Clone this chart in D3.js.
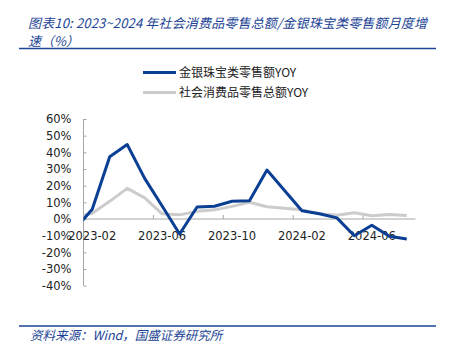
<!DOCTYPE html>
<html lang="zh">
<head>
  <meta charset="UTF-8">
  <title>金银珠宝类零售额月度增速</title>
  <script src="https://d3js.org/d3.v7.min.js"></script>
  <style>
    body { margin: 0; background: #fff; }
    .cn { font-family: "Noto Sans CJK SC", "DejaVu Sans", sans-serif; }
    .axis text { font-family: "DejaVu Sans", sans-serif; font-size: 11.5px; fill: #222; }
  </style>
</head>
<body>
  <div id="chart"></div>
  <script>
    // months (2022-12 point lies left of the axis start and is clipped, like the original)
    const months = ["2022-12", "2023-02", "2023-03", "2023-04", "2023-05", "2023-06", "2023-07",
      "2023-08", "2023-09", "2023-10", "2023-11", "2023-12", "2024-02", "2024-03", "2024-04",
      "2024-05", "2024-06", "2024-07", "2024-08"];
    const jewelry = [-18.4, 5.9, 37.4, 44.7, 24.4, 7.8, -9.0, 7.2, 7.7, 10.7, 11.0, 29.4,
      5.0, 3.2, 0.7, -10.0, -3.7, -10.4, -12.0];
    const retail = [-1.8, 3.5, 10.6, 18.4, 12.7, 3.1, 2.5, 4.6, 5.5, 7.6, 10.1, 7.4,
      5.5, 3.1, 2.3, 3.7, 2.0, 2.7, 2.1];
    const xTickLabels = ["2023-02", "2023-06", "2023-10", "2024-02", "2024-06"];
    const yTicks = [60, 50, 40, 30, 20, 10, 0, -10, -20, -30, -40];
    const seriesNames = ["金银珠宝类零售额YOY", "社会消费品零售总额YOY"];

    const blue = "#0b3f94";
    const grey = "#cccccc";
    const titleBlue = "#1c4595";

    const W = 452, H = 353;
    const plot = { left: 83.5, right: 415.5, top: 119, bottom: 285.7 };

    // month index relative to 2023-02
    const mIdx = s => {
      const [yy, mm] = s.split("-").map(Number);
      return (yy - 2023) * 12 + (mm - 2);
    };

    const x = d3.scaleLinear().domain([-0.5, 18.5]).range([plot.left, plot.right]);
    const y = d3.scaleLinear().domain([-40, 60]).range([plot.bottom, plot.top]);

    const svg = d3.select("#chart").append("svg")
      .attr("width", W)
      .attr("height", H);

    svg.append("rect").attr("width", W).attr("height", H).attr("fill", "#fff");

    // title, two lines
    svg.append("text")
      .attr("class", "cn")
      .attr("x", 28).attr("y", 28)
      .attr("fill", titleBlue)
      .attr("textLength", 399)
      .attr("lengthAdjust", "spacing")
      .style("font-size", "13px")
      .style("font-style", "italic")
      .text("图表10:  2023~2024 年社会消费品零售总额/金银珠宝类零售额月度增");
    svg.append("text")
      .attr("class", "cn")
      .attr("x", 28).attr("y", 45.5)
      .attr("fill", titleBlue)
      .style("font-size", "13px")
      .style("font-style", "italic")
      .text("速（%）");

    svg.append("line")
      .attr("x1", 19).attr("x2", 436).attr("y1", 48.5).attr("y2", 48.5)
      .attr("stroke", titleBlue).attr("stroke-width", 1.5);

    // legend
    const legend = svg.append("g");
    [[seriesNames[0], blue], [seriesNames[1], grey]].forEach(([name, c], i) => {
      const ly = 72.5 + i * 20;
      legend.append("line")
        .attr("x1", 143).attr("x2", 176).attr("y1", ly).attr("y2", ly)
        .attr("stroke", c).attr("stroke-width", 3);
      legend.append("text")
        .attr("class", "cn")
        .attr("x", 179).attr("y", ly + 4.5)
        .attr("fill", "#222")
        .style("font-size", "12px")
        .text(name);
    });

    // y axis
    const yAxis = svg.append("g")
      .attr("class", "axis")
      .attr("transform", `translate(${plot.left},0)`)
      .call(d3.axisRight(y).tickValues(yTicks).tickSize(3).tickFormat(d => d + "%"));
    yAxis.select(".domain").attr("stroke", "#a6a6a6").attr("d", `M0,${plot.top}V${plot.bottom}`);
    yAxis.selectAll(".tick line").attr("stroke", "#a6a6a6");
    yAxis.selectAll(".tick text")
      .attr("x", -12)
      .attr("text-anchor", "end");

    // x axis at 0%
    const xAxisG = svg.append("g")
      .attr("class", "axis")
      .attr("transform", `translate(0,${y(0)})`);
    xAxisG.append("line")
      .attr("x1", plot.left).attr("x2", plot.right)
      .attr("stroke", "#a6a6a6");
    xAxisG.selectAll("line.tk")
      .data(xTickLabels.slice(1))
      .enter().append("line")
      .attr("class", "tk")
      .attr("x1", d => x(mIdx(d) - 0.5)).attr("x2", d => x(mIdx(d) - 0.5))
      .attr("y1", 0).attr("y2", -4)
      .attr("stroke", "#a6a6a6");
    xAxisG.selectAll("text")
      .data(xTickLabels)
      .enter().append("text")
      .attr("x", d => x(mIdx(d)))
      .attr("y", y(-10) - y(0) + 4.5)
      .attr("text-anchor", "middle")
      .text(d => d);

    // lines, clipped to plot area
    svg.append("clipPath").attr("id", "clip")
      .append("rect")
      .attr("x", plot.left).attr("y", 0)
      .attr("width", plot.right - plot.left).attr("height", H);

    const line = d3.line()
      .x((d, i) => x(mIdx(months[i])))
      .y(d => y(d));

    const lines = svg.append("g").attr("clip-path", "url(#clip)");
    lines.append("path")
      .datum(retail)
      .attr("fill", "none")
      .attr("stroke", grey)
      .attr("stroke-width", 3)
      .attr("stroke-linejoin", "round")
      .attr("d", line);
    lines.append("path")
      .datum(jewelry)
      .attr("fill", "none")
      .attr("stroke", blue)
      .attr("stroke-width", 3)
      .attr("stroke-linejoin", "round")
      .attr("d", line);

    // footer
    svg.append("line")
      .attr("x1", 19).attr("x2", 436).attr("y1", 326).attr("y2", 326)
      .attr("stroke", titleBlue).attr("stroke-width", 1.5);
    svg.append("text")
      .attr("class", "cn")
      .attr("x", 30).attr("y", 340)
      .attr("fill", titleBlue)
      .style("font-size", "12.5px")
      .style("font-style", "italic")
      .text("资料来源：Wind，国盛证券研究所");
  </script>
</body>
</html>
